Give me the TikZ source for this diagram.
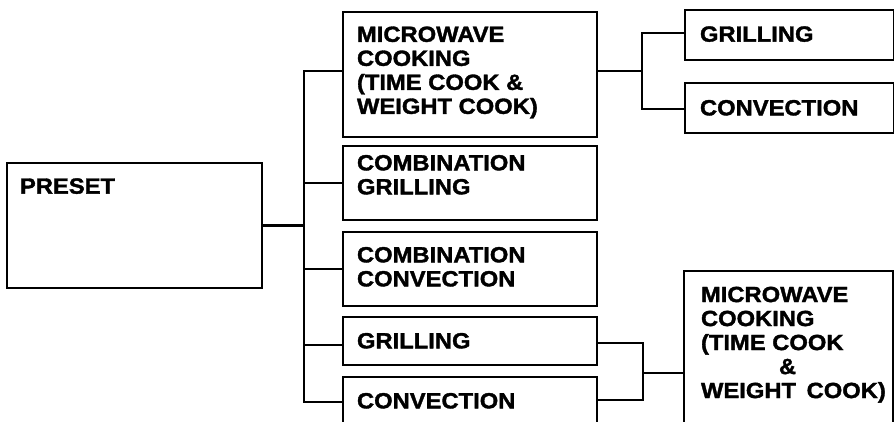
\documentclass[tikz,border=0pt]{standalone}
\usepackage{fontspec}
\setmainfont{Liberation Sans}[FakeStretch=1.08, BoldFeatures={FakeBold=1.6}]
\begin{document}
\begin{tikzpicture}[x=1pt,y=-1pt,line join=miter]
\tikzset{
  box/.style={draw, line width=2.2pt, inner sep=0pt, outer sep=0pt, anchor=north west},
  txt/.style={inner sep=0pt, outer sep=0pt, anchor=north west, align=left,
              font=\fontsize{22}{24}\selectfont\bfseries},
  conn/.style={line width=2.6pt}
}
\clip (0,0) rectangle (894,421);
% boxes
\node[box, minimum width=255pt, minimum height=125pt] (preset) at (7,163) {};
\node[box, minimum width=254pt, minimum height=125pt] (b1) at (343,12) {};
\node[box, minimum width=254pt, minimum height=74pt] (b2) at (343,146) {};
\node[box, minimum width=254pt, minimum height=74pt] (b3) at (343,232) {};
\node[box, minimum width=254pt, minimum height=48pt] (b4) at (343,317) {};
\node[box, minimum width=254pt, minimum height=60pt] (b5) at (343,377) {};
\node[box, minimum width=209pt, minimum height=50pt] (c1) at (685,10) {};
\node[box, minimum width=209pt, minimum height=50pt] (c2) at (685,83) {};
\node[box, minimum width=209pt, minimum height=170pt] (d1) at (684,271) {};
% texts
\node[txt] (tpreset) at (20,178.3) {PRESET};
\node[txt] (tb1) at (357,26.5) {MICROWAVE\\COOKING\\(TIME COOK \&\\WEIGHT COOK)};
\node[txt] (tb2) at (357,155) {COMBINATION\\GRILLING};
\node[txt] (tb3) at (357,247) {COMBINATION\\CONVECTION};
\node[txt] (tb4) at (357,333) {GRILLING};
\node[txt] (tb5) at (357,393) {CONVECTION};
\node[txt] (tc1) at (700,26.3) {GRILLING};
\node[txt] (tc2) at (700,100) {CONVECTION};
\node[txt] (td1) at (701,286.7) {MICROWAVE\\COOKING\\(TIME COOK\\\hspace*{78pt}\&\\WEIGHT\hspace{4pt} COOK)};
% connectors: main tree
\coordinate (trA) at (304,71);
\coordinate (trB) at (304,402);
\draw[conn] (b1.west |- trA) -- (trA) -- (trB) -- (b5.west |- trB);
\draw[conn] (preset.east) -- (preset.east -| trA);
\draw[conn] (b2.west) -- (b2.west -| trA);
\draw[conn] (b3.west) -- (b3.west -| trA);
\draw[conn] (b4.west |- 0,345) -- (trA |- 0,345);
% top right
\coordinate (jt) at (642,71);
\draw[conn] (b1.east |- jt) -- (jt);
\draw[conn] (c1.west |- 0,33) -| (jt) |- (c2.west |- 0,109);
% bottom right
\coordinate (jb) at (643,373);
\draw[conn] (b4.east |- 0,343) -| (jb) |- (b5.east |- 0,400);
\draw[conn] (jb) -- (d1.west |- jb);
\end{tikzpicture}
\end{document}
